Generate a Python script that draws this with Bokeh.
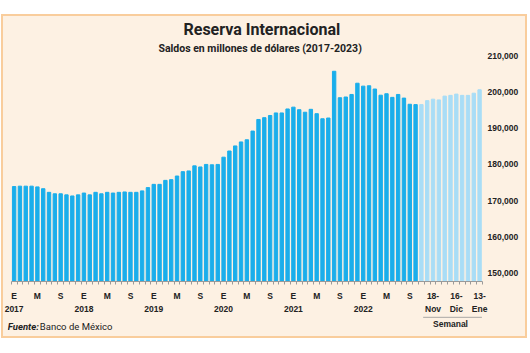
from bokeh.plotting import figure
from bokeh.layouts import column
from bokeh.models import (Range1d, LinearAxis, FixedTicker, Title, NumeralTickFormatter)
from bokeh.core.properties import value
from bokeh.embed import file_html
from bokeh.resources import INLINE

# ---------------- data ----------------
monthly_values = [
    173900, 174000, 174000, 174000, 173800, 173300, 172300, 171900, 171900, 171600, 171300, 171600,
    172100, 171600, 172300, 171900, 172300, 172100, 172300, 172400, 172300, 172300, 172700, 173600,
    174500, 174500, 175600, 175800, 176800, 178000, 178200, 179600, 179300, 180000, 179900, 180000,
    182000, 183700, 185100, 186200, 186800, 189200, 192400, 192900, 193500, 194200, 194200, 195300,
    195800, 195100, 194400, 195200, 194000, 192600, 192800, 205700, 198400, 198600, 199300, 202400,
    201600, 201700, 200800, 199100, 199500, 198500, 199300, 198300, 196600, 196500,
]
weekly_values = [196500, 197600, 198000, 197800, 198850, 199050, 199400, 199050, 199050, 199650, 200600]

month_letters = {0: "E", 4: "M", 8: "S"}
years = ["2017", "2018", "2019", "2020", "2021", "2022"]
weekly_day_labels = {2: "18-", 6: "16-", 10: "13-"}
weekly_month_labels = {2: "Nov", 6: "Dic", 10: "Ene"}
weekly_group_label = "Semanal"
y_ticks = [150000, 160000, 170000, 180000, 190000, 200000, 210000]

title_text = "Reserva Internacional"
subtitle_text = "Saldos en millones de dólares (2017-2023)"
source_bold = "Fuente:"
source_text = "Banco de México"

# ---------------- derived ----------------
n_m = len(monthly_values)
n_w = len(weekly_values)
n = n_m + n_w
xm = list(range(n_m))
xw = [n_m + i for i in range(n_w)]

BG = "#FDF1E3"
DARK = "#1AAEEB"
LIGHT = "#A9DDF6"
TXT = "#222222"
GRAY = "#9A9A9A"
AXFONT = "Liberation Sans"
Y0 = 147700
W = 522
BL, BR = 4, 43
H1, H2 = 300, 20
unit = (W - 8 - BR) / n          # px per bar slot
x_start = -0.5 - 3.7 / unit      # leave a little room left of the first bar

xr = Range1d(x_start, n - 0.5)

p = figure(width=W, height=H1, output_backend="svg", toolbar_location=None,
           x_range=xr, y_range=Range1d(Y0, 210050),
           background_fill_color=BG, border_fill_color=BG,
           min_border_left=BL, min_border_right=BR, min_border_top=38, min_border_bottom=35,
           x_axis_location=None, y_axis_location=None)
p.outline_line_color = None
p.grid.visible = False

p.vbar(x=xm, top=monthly_values, bottom=Y0, width=0.58, color=DARK)
p.vbar(x=xw, top=weekly_values, bottom=Y0, width=0.58, color=LIGHT)


def style_axis(ax):
    ax.major_label_text_font = AXFONT
    ax.major_label_text_font_style = "bold"
    ax.major_label_text_font_size = "8.5px"
    ax.major_label_text_color = TXT
    ax.major_tick_line_color = None
    ax.major_tick_out = 0
    ax.major_tick_in = 0
    ax.minor_tick_in = 0


# right y axis
yax = LinearAxis(ticker=FixedTicker(ticks=y_ticks), formatter=NumeralTickFormatter(format="0,0"))
style_axis(yax)
yax.axis_line_color = None
yax.minor_tick_line_color = None
yax.minor_tick_out = 0
yax.major_label_standoff = 5
p.add_layout(yax, "right")

# x axis row 1: month letters + weekly days
t1, ov1 = [], {}
for i in xm:
    if (i % 12) in month_letters:
        t1.append(i)
        ov1[i] = month_letters[i % 12]
for k, v in weekly_day_labels.items():
    t1.append(n_m + k)
    ov1[n_m + k] = v
minor = [i - 0.5 for i in range(n + 1)]
ax1 = LinearAxis(ticker=FixedTicker(ticks=t1, minor_ticks=minor), major_label_overrides=ov1,
                 bounds=(-0.5, n - 0.5))
style_axis(ax1)
ax1.axis_line_color = GRAY
ax1.minor_tick_line_color = GRAY
ax1.minor_tick_out = 3
ax1.major_label_standoff = 6
p.add_layout(ax1, "below")

# x axis row 2: years + weekly months
t2 = [i * 12 for i in range(len(years))]
ov2 = {i * 12: y for i, y in enumerate(years)}
for k, v in weekly_month_labels.items():
    t2.append(n_m + k)
    ov2[n_m + k] = v
ax2 = LinearAxis(ticker=FixedTicker(ticks=t2), major_label_overrides=ov2)
style_axis(ax2)
ax2.axis_line_color = None
ax2.minor_tick_line_color = None
ax2.minor_tick_out = 0
ax2.major_label_standoff = 0
p.add_layout(ax2, "below")

# titles
sub = Title(text=subtitle_text, align="left", offset=151, text_font="Roboto",
            text_font_style="bold", text_font_size="10.5px", text_color=TXT, standoff=1)
p.add_layout(sub, "above")
ttl = Title(text=title_text, align="left", offset=176, text_font="Roboto",
            text_font_style="bold", text_font_size="16px", text_color=TXT, standoff=2)
p.add_layout(ttl, "above")

# footer strip (frames of a column are aligned, x range shared)
p2 = figure(width=W, height=H2, output_backend="svg", toolbar_location=None,
            x_range=xr, y_range=Range1d(0, H2),
            background_fill_color=BG, border_fill_color=BG,
            min_border_left=BL, min_border_right=BR, min_border_top=0, min_border_bottom=0,
            x_axis_location=None, y_axis_location=None)
p2.outline_line_color = None
p2.grid.visible = False

mid = n_m + (n_w - 1) / 2
p2.segment(x0=[n_m + 0.3], y0=[H2 - 0.7], x1=[n - 0.6], y1=[H2 - 0.7], line_color=GRAY, line_width=1)
p2.text(x=[mid], y=[H2 - 7], text=[weekly_group_label], text_font=value(AXFONT),
        text_font_style=value("bold"), text_font_size=value("8.5px"), text_color=TXT,
        text_align="center", text_baseline="middle")
fx = x_start + 0.3 / unit
p2.text(x=[fx], y=[H2 - 10], text=[source_bold], text_font=value("Roboto"),
        text_font_style=value("bold italic"), text_font_size=value("9.5px"), text_color=TXT,
        text_align="left", text_baseline="middle")
p2.text(x=[fx], y=[H2 - 10], x_offset=32, text=[source_text], text_font=value("Roboto"),
        text_font_size=value("9.5px"), text_color=TXT,
        text_align="left", text_baseline="middle")

layout = column(p, p2, spacing=0)
layout.margin = (14, 0, 0, 1)
layout.styles = {"border": "2px solid #F9CD9C", "background-color": BG}

open("out.html", "w").write(file_html(layout, INLINE))
